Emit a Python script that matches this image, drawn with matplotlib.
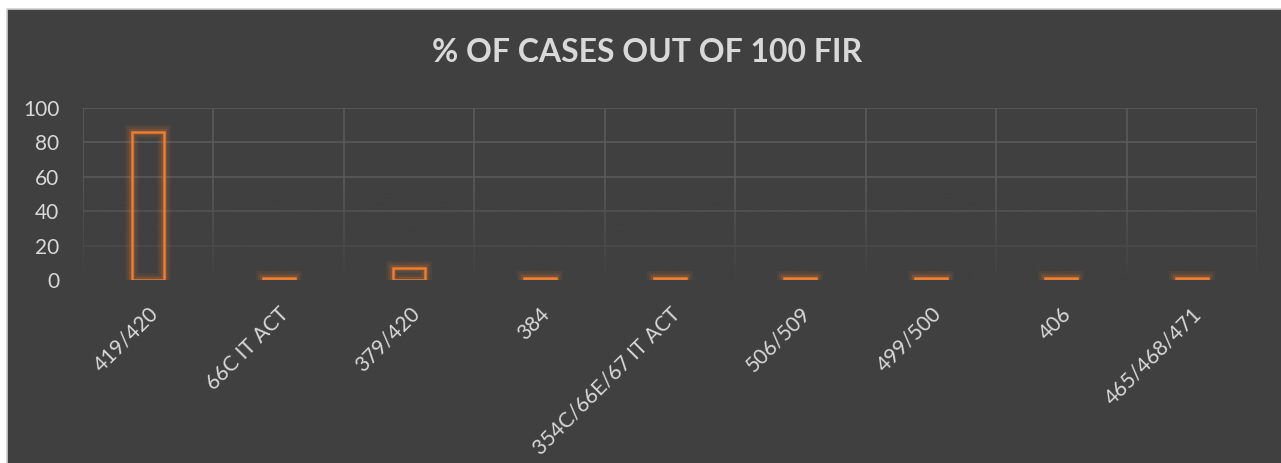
import numpy as np
import matplotlib.pyplot as plt
from matplotlib.patches import Rectangle

# chart data
sections = ["419/420", "66C IT ACT", "379/420", "384", "354C/66E/67 IT ACT",
            "506/509", "499/500", "406", "465/468/471"]
pct_cases = [86, 1, 7, 1, 1, 1, 1, 1, 1]

BG = "#404040"
GRID = "#5a5a5a"
TEXT = "#d9d9d9"
ORANGE = "#ed7d31"

plt.rcParams['font.family'] = ['Lato', 'DejaVu Sans']

fig = plt.figure(figsize=(12.81, 4.63), dpi=100, facecolor="white")
# chart area frame
fig.patches.append(Rectangle((6.5 / 1281, -0.01), 1.02, 1 - 9 / 463 + 0.01,
                             transform=fig.transFigure, facecolor=BG,
                             edgecolor="#d0d0d0", linewidth=1.2, zorder=-5))

ax = fig.add_axes([83 / 1281, 1 - 280 / 463, (1257 - 83) / 1281, (280 - 108) / 463])
ax.set_facecolor(BG)

x = np.arange(len(sections))

# grid: horizontal at ticks, vertical at category boundaries
ax.set_xticks(np.arange(-0.5, len(sections), 1), minor=True)
ax.grid(axis="y", which="major", color=GRID, linewidth=1.2, zorder=0)
ax.grid(axis="x", which="minor", color=GRID, linewidth=1.2, zorder=0)
ax.set_axisbelow(True)

# fade the gridlines toward the bottom
grad = np.linspace(1, 0, 256).reshape(-1, 1)
rgba = np.zeros((256, 1, 4))
rgba[..., :3] = np.array([0x40, 0x40, 0x40]) / 255
rgba[..., 3] = grad
ax.imshow(rgba, extent=(-0.5, len(sections) - 0.5, 0, 55), origin="lower",
          aspect="auto", zorder=1)
ax.set_xlim(-0.5, len(sections) - 0.5)
ax.set_ylim(0, 100)
ax.set_yticks(range(0, 101, 20))

# glow behind bars
for lw, a in [(10, 0.07), (7, 0.1), (4.5, 0.16)]:
    ax.bar(x, pct_cases, width=0.245, facecolor="none", edgecolor=ORANGE,
           linewidth=lw, alpha=a, zorder=2)
ax.bar(x, pct_cases, width=0.245, facecolor="none", edgecolor=ORANGE,
       linewidth=1.8, zorder=3)

for s in ax.spines.values():
    s.set_visible(False)
ax.tick_params(which="both", length=0)
ax.set_xticks(x)
ax.set_xticklabels(sections, rotation=45, ha="right", rotation_mode="anchor",
                   fontsize=15, color=TEXT)
ax.tick_params(axis="x", pad=17)
ax.tick_params(axis="y", labelsize=15, colors=TEXT, pad=17)

fig.text(0.505, 1 - 53 / 463, "% OF CASES OUT OF 100 FIR", ha="center",
         va="center", fontsize=23, fontweight="bold", color=TEXT)

fig.savefig("out.png", dpi=100, facecolor=fig.get_facecolor())
